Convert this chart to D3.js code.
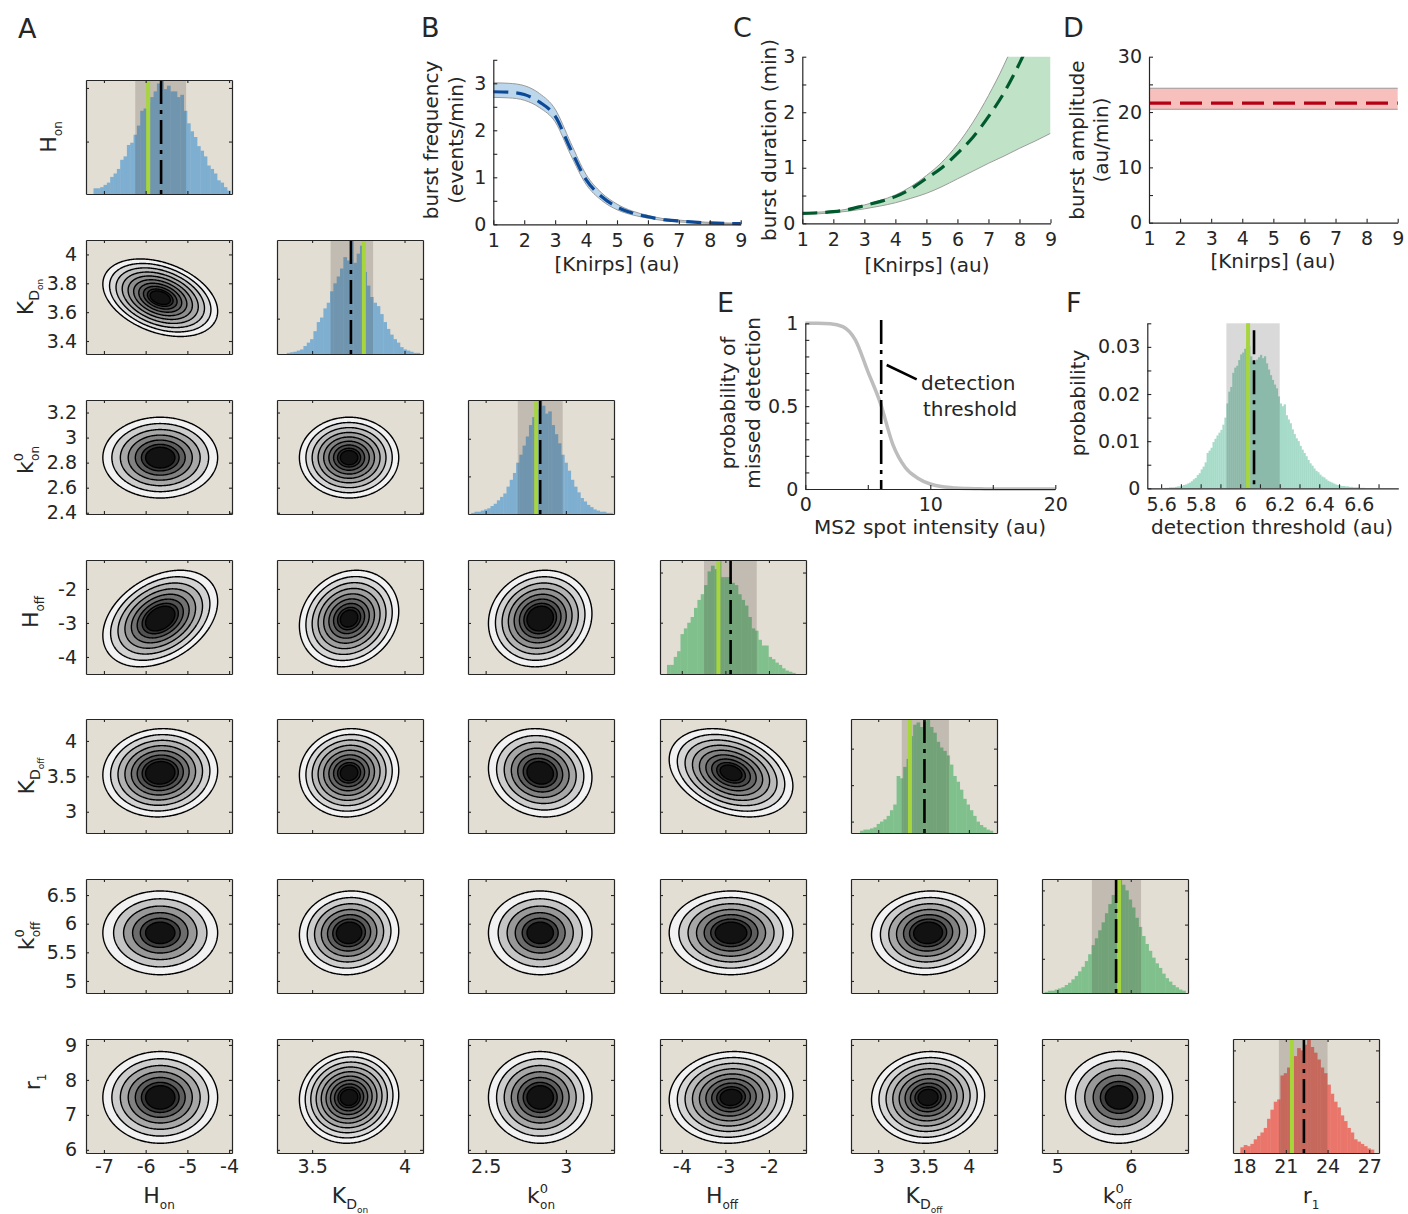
<!DOCTYPE html>
<html>
<head>
<meta charset="utf-8">
<script src="https://cdn.jsdelivr.net/npm/d3@7/dist/d3.min.js"></script>
<style>
html,body{margin:0;padding:0;background:#fff;}
svg{display:block;}
</style>
</head>
<body>
<svg id="fig" width="1408" height="1214"></svg>
<script>
// ================= DATA =================
// Corner plot parameters (order: H_on, K_D_on, k0_on, H_off, K_D_off, k0_off, r_1)
const axisDomains = [[-7.43,-3.93],[3.31,4.10],[2.39,3.30],[-4.50,-1.15],[2.70,4.31],[4.79,6.78],[5.91,9.17]];
const r1HistDomain = [17.2, 27.7];
const xTickVals = [[-7,-6,-5,-4],[3.5,4],[2.5,3],[-4,-3,-2],[3,3.5,4],[5,6],[18,21,24,27]];
const yTickVals = [[],[3.4,3.6,3.8,4],[2.4,2.6,2.8,3,3.2],[-4,-3,-2],[3,3.5,4],[5,5.5,6,6.5],[6,7,8,9]];

// Marginal histograms (relative heights)
const histHon   = [0.05,0.05,0.06,0.08,0.10,0.15,0.18,0.22,0.30,0.33,0.43,0.45,0.52,0.60,0.73,0.75,0.80,0.85,0.90,0.97,1.00,0.92,0.95,0.90,0.90,0.85,0.87,0.73,0.62,0.55,0.50,0.42,0.38,0.33,0.25,0.22,0.18,0.12,0.10,0.06,0.03];
const histKDon  = [0.01,0.015,0.02,0.03,0.04,0.07,0.10,0.13,0.20,0.28,0.32,0.40,0.45,0.55,0.62,0.68,0.75,0.85,0.82,1.00,0.80,0.88,0.95,0.72,0.60,0.50,0.45,0.42,0.35,0.28,0.22,0.17,0.13,0.10,0.06,0.04,0.03,0.02,0.01,0.01];
const histKon0  = [0.01,0.02,0.02,0.03,0.04,0.05,0.07,0.09,0.12,0.15,0.18,0.24,0.30,0.36,0.45,0.52,0.60,0.68,0.78,0.85,0.92,1.00,0.95,0.88,0.90,0.78,0.70,0.62,0.52,0.45,0.38,0.30,0.24,0.19,0.14,0.11,0.08,0.06,0.04,0.03,0.02,0.02,0.01,0.01];
const histHoff  = [0.08,0.08,0.15,0.20,0.35,0.40,0.45,0.50,0.58,0.65,0.70,0.78,0.90,0.95,0.92,1.00,0.85,0.85,0.85,0.80,0.78,0.70,0.65,0.60,0.50,0.40,0.38,0.30,0.25,0.25,0.15,0.13,0.10,0.08,0.05,0.03,0.02,0.01];
const histKDoff = [0.02,0.03,0.03,0.04,0.05,0.08,0.10,0.12,0.15,0.20,0.25,0.50,0.48,0.58,0.65,0.85,0.95,0.97,0.93,0.98,1.00,0.93,0.88,0.80,0.75,0.72,0.68,0.60,0.50,0.45,0.38,0.30,0.25,0.20,0.15,0.10,0.07,0.05,0.03,0.02];
const histKoff0 = [0.01,0.02,0.02,0.03,0.04,0.05,0.07,0.09,0.12,0.15,0.19,0.23,0.28,0.34,0.42,0.48,0.55,0.62,0.70,0.78,0.86,0.93,1.00,0.95,0.90,0.82,0.75,0.66,0.58,0.50,0.43,0.37,0.31,0.26,0.22,0.17,0.13,0.10,0.07,0.05,0.03,0.02];
const histR1    = [0.05,0.07,0.06,0.08,0.12,0.15,0.18,0.22,0.30,0.38,0.45,0.47,0.68,0.70,0.75,0.80,0.85,0.92,0.90,0.95,1.00,0.93,0.88,0.82,0.75,0.70,0.60,0.52,0.45,0.40,0.33,0.28,0.22,0.18,0.12,0.10,0.08,0.06,0.04,0.03];
const histStart = [-7.25, 3.363, 2.41, -4.34, 2.80, 4.825, 17.73];
const histWidth = [0.08, 0.018, 0.02, 0.0775, 0.0366, 0.0457, 0.24];
const histYTicks = [[0.46,0.93],[0.31,0.66],[0.33,0.66],[0.45,0.89],[0.10,0.42,0.74],[0.30,0.60,0.90],[0.45,0.90]];

// Credible interval, true value (green) and median (dash-dot)
const ciLow        = [-6.25, 3.60, 2.70, -3.49, 3.26, 5.47, 20.5];
const ciHigh       = [-5.03, 3.83, 2.98, -2.28, 3.78, 6.14, 24.0];
const trueValues   = [-5.94, 3.78, 2.815, -3.16, 3.35, 5.84, 21.44];
const medianValues = [-5.63, 3.71, 2.84, -2.88, 3.51, 5.80, 22.3];

// Joint posterior contours: centre & spread per parameter, correlation & level count per pair
const contourCenter = [-5.65, 3.70, 2.84, -2.87, 3.55, 5.84, 7.50];
const contourSpread = [0.64, 0.125, 0.15, 0.66, 0.29, 0.34, 0.61];
const pairRow    = [1,2,2,3,3,3,4,4,4,4,5,5,5,5,5,6,6,6,6,6,6];
const pairCol    = [0,0,1,0,1,2,0,1,2,3,0,1,2,3,4,0,1,2,3,4,5];
const pairCorr   = [-0.35, 0.0,0.0, 0.35,0.15,0.1, 0.05,0.05,-0.1,-0.3, 0,0.05,0,0,0.05, 0,0.05,0,0.05,0.05,0];
const pairLevels = [10, 7,9, 8,9,8, 8,9,7,9, 6,7,6,7,7, 7,10,7,9,9,6];

// Panel B-D : vs [Knirps]
const knirps   = [1,1.5,2,2.5,3,3.5,4,4.5,5,5.5,6,6.5,7,7.5,8,8.5,9];
const freqMean = [2.82,2.81,2.76,2.60,2.30,1.60,0.95,0.59,0.37,0.24,0.16,0.10,0.07,0.045,0.03,0.02,0.015];
const freqLow  = [2.70,2.69,2.64,2.48,2.18,1.48,0.85,0.51,0.31,0.20,0.13,0.08,0.05,0.035,0.02,0.015,0.01];
const freqHigh = [3.01,3.00,2.95,2.78,2.45,1.74,1.06,0.67,0.43,0.28,0.19,0.12,0.09,0.06,0.04,0.03,0.02];
const durMean  = [0.18,0.19,0.21,0.25,0.32,0.39,0.48,0.62,0.81,1.00,1.26,1.55,1.92,2.35,2.88,3.50,4.20];
const durLow   = [0.16,0.17,0.19,0.22,0.26,0.31,0.37,0.45,0.54,0.66,0.80,0.94,1.08,1.21,1.35,1.48,1.62];
const durHigh  = [0.19,0.20,0.22,0.26,0.33,0.41,0.51,0.66,0.86,1.10,1.42,1.82,2.30,2.85,3.50,4.30,5.20];
const ampX     = [1, 9];
const ampMean  = [21.6, 21.6];
const ampLow   = [20.5, 20.5];
const ampHigh  = [24.3, 24.3];

// Panel E
const spotIntensity = [0,1,2,3,4,5,6,7,8,9,10,11,12,13,14,16,18,20];
const pMissed       = [1,1,0.998,0.98,0.90,0.71,0.52,0.27,0.13,0.065,0.03,0.013,0.006,0.003,0.001,0,0,0];

// Panel F
const thrStart = 5.62, thrWidth = 0.01;
const thrProb = [0.1,0.1,0.2,0.2,0.2,0.3,0.4,0.4,0.5,0.7,0.8,1.0,1.2,1.5,1.9,2.2,2.8,3.2,4.0,4.6,5.5,7.5,8.0,8.6,9.8,10.5,11.2,11.8,12.4,13.5,15.0,18.0,20.5,21.5,24.5,25.6,26.0,27.2,28.4,28.8,29.6,31.0,30.2,28.0,27.0,26.6,27.3,27.8,28.3,27.6,28.0,26.5,25.2,24.0,23.0,22.0,21.2,19.5,18.0,17.4,17.8,15.5,14.6,13.8,12.5,11.5,10.6,10.0,9.0,8.2,7.5,6.8,6.0,5.3,4.8,4.2,3.7,3.4,2.9,2.5,2.3,1.9,1.6,1.4,1.2,1.0,0.8,0.7,0.6,0.5,0.5,0.4,0.4,0.3,0.3,0.2,0.2,0.2,0.1,0.1,0.1].map(v=>v/1000);
const thrCiLow = 5.93, thrCiHigh = 6.20, thrTrue = 6.04, thrMedian = 6.07;

// Tick labels for B-F
const bYTicks = [0,0.5,1,1.5,2,2.5,3,3.5], bYLabels = ["0","","1","","2","","3",""];
const cYTicks = [0,0.5,1,1.5,2,2.5,3],     cYLabels = ["0","","1","","2","","3"];
const dYTicks = [0,5,10,15,20,25,30],      dYLabels = ["0","","10","","20","","30"];
const knirpsTicks = [1,2,3,4,5,6,7,8,9];
const eXTicks = [0,5,10,15,20], eXLabels = ["0","","10","","20"];
const eYTicks = [0,0.1,0.2,0.3,0.4,0.5,0.6,0.7,0.8,0.9,1], eYLabels = ["0","","","","","0.5","","","","","1"];
const fXTicks = [5.6,5.7,5.8,5.9,6,6.1,6.2,6.3,6.4,6.5,6.6,6.7], fXLabels = ["5.6","","5.8","","6","","6.2","","6.4","","6.6",""];
const fYTicks = [0,0.005,0.01,0.015,0.02,0.025,0.03,0.035], fYLabels = ["0","","0.01","","0.02","","0.03",""];

// ================= DRAWING =================
const FONT = "'DejaVu Sans', 'Open Sans', sans-serif";
const TXT = "#262626";
const BG = "#e3ded4";
const TICK_PX = 19, LABEL_PX = 20;
const svg = d3.select("#fig");
const histCounts = [histHon, histKDon, histKon0, histHoff, histKDoff, histKoff0, histR1];
const histFill = ["#7eaed0","#7eaed0","#7eaed0","#80c08d","#80c08d","#80c08d","#ea766b"];

const colX = [86,277,468,660,851,1042,1233];
const rowY = [80,240,400,560,719,879,1039];
const PW = 146, PH = 114;

function styleAxis(g, size) {
  g.attr("font-family", null).attr("font-size", null);
  g.selectAll("path.domain").attr("stroke", TXT).attr("stroke-width", 1.2);
  g.selectAll(".tick line").attr("stroke", TXT).attr("stroke-width", 1.1);
  g.selectAll(".tick text").attr("fill", TXT).style("font-size", size + "px").style("font-family", FONT);
}

function frame(g, xs, ys, xt, yt, showX, showY) {
  const none = () => "";
  const fmt = d => String(d);
  const b = g.append("g").attr("transform", `translate(0,${PH})`)
    .call(d3.axisBottom(xs).tickValues(xt).tickSize(-3).tickSizeOuter(0).tickPadding(7).tickFormat(showX ? fmt : none));
  const t = g.append("g").call(d3.axisTop(xs).tickValues(xt).tickSize(-3).tickSizeOuter(0).tickFormat(none));
  const l = g.append("g").call(d3.axisLeft(ys).tickValues(yt).tickSize(-3).tickSizeOuter(0).tickPadding(9).tickFormat(showY ? fmt : none));
  const r = g.append("g").attr("transform", `translate(${PW},0)`)
    .call(d3.axisRight(ys).tickValues(yt).tickSize(-3).tickSizeOuter(0).tickFormat(none));
  [b, t, l, r].forEach(a => styleAxis(a, TICK_PX));
}

function drawHist(p) {
  const g = svg.append("g").attr("transform", `translate(${colX[p]},${rowY[p]})`);
  const xs = d3.scaleLinear().domain(p === 6 ? r1HistDomain : axisDomains[p]).range([0, PW]);
  const counts = histCounts[p];
  const ys = d3.scaleLinear().domain([0, d3.max(counts)]).range([PH, 0]);
  g.append("rect").attr("width", PW).attr("height", PH).attr("fill", BG);
  const x0 = histStart[p], dx = histWidth[p];
  g.append("g").selectAll("rect").data(counts).join("rect")
    .attr("x", (d, i) => xs(x0 + i * dx))
    .attr("width", (d, i) => xs(x0 + (i + 1) * dx) - xs(x0 + i * dx) + 0.4)
    .attr("y", d => ys(d)).attr("height", d => PH - ys(d))
    .attr("fill", histFill[p]);
  g.append("rect").attr("x", xs(ciLow[p])).attr("width", xs(ciHigh[p]) - xs(ciLow[p]))
    .attr("y", 0).attr("height", PH).attr("fill", "rgba(60,50,40,0.2)");
  g.append("line").attr("x1", xs(trueValues[p])).attr("x2", xs(trueValues[p]))
    .attr("y1", 0).attr("y2", PH).attr("stroke", "#a6d63c").attr("stroke-width", 4);
  g.append("line").attr("x1", xs(medianValues[p])).attr("x2", xs(medianValues[p]))
    .attr("y1", 0).attr("y2", PH).attr("stroke", "#000").attr("stroke-width", 2.6)
    .attr("stroke-dasharray", "24,6,4,6");
  frame(g, xs, ys, xTickVals[p], histYTicks[p], p === 6, false);
}

function drawContour(k) {
  const r = pairRow[k], c = pairCol[k];
  const g = svg.append("g").attr("transform", `translate(${colX[c]},${rowY[r]})`);
  const xs = d3.scaleLinear().domain(axisDomains[c]).range([0, PW]);
  const ys = d3.scaleLinear().domain(axisDomains[r]).range([PH, 0]);
  g.append("rect").attr("width", PW).attr("height", PH).attr("fill", BG);
  const mx = contourCenter[c], my = contourCenter[r];
  const sx = contourSpread[c], sy = contourSpread[r], rho = pairCorr[k];
  const vals = new Float64Array(PW * PH);
  for (let j = 0; j < PH; j++) {
    const y = ys.invert(j + 0.5);
    for (let i = 0; i < PW; i++) {
      const x = xs.invert(i + 0.5);
      const u = (x - mx) / sx, v = (y - my) / sy;
      const q = (u * u - 2 * rho * u * v + v * v) / (1 - rho * rho);
      vals[j * PW + i] = Math.exp(-q / 2);
    }
  }
  const n = pairLevels[k];
  const rOut = 2.15, rIn = n >= 9 ? 0.38 : 0.55;
  const th = d3.range(n).map(i => {
    const rr = rIn + (rOut - rIn) * Math.pow(1 - i / (n - 1), 1.3);
    return Math.exp(-rr * rr / 2);
  });
  const cs = d3.contours().size([PW, PH]).thresholds(th)(vals);
  const path = d3.geoPath();
  g.append("g").selectAll("path").data(cs).join("path")
    .attr("d", path)
    .attr("fill", (d, i) => { const v = Math.round(242 - i * (242 - 18) / (n - 1)); return d3.rgb(v, v, v); })
    .attr("stroke", "#000").attr("stroke-width", 1.4).attr("stroke-linejoin", "round");
  frame(g, xs, ys, xTickVals[c], yTickVals[r], r === 6, c === 0);
}

for (let p = 0; p < 7; p++) drawHist(p);
for (let k = 0; k < pairRow.length; k++) drawContour(k);

// ---- math labels ----
function mathText(parts, x, y, rotate, size) {
  const t = svg.append("text")
    .attr("transform", `translate(${x},${y})` + (rotate ? " rotate(-90)" : ""))
    .attr("text-anchor", "middle").attr("fill", TXT)
    .style("font-family", FONT).style("font-size", size + "px");
  parts.forEach(p => {
    const ts = t.append("tspan").text(p.t);
    if (p.size) ts.style("font-size", p.size + "px");
    if (p.dy) ts.attr("dy", p.dy);
    if (p.dx) ts.attr("dx", p.dx);
  });
  return t;
}
const paramLabels = [
  [{t:"H"},{t:"on",size:12,dy:6}],
  [{t:"K"},{t:"D",size:14,dy:6},{t:"on",size:9,dy:4}],
  [{t:"k"},{t:"0",size:13,dy:-10},{t:"on",size:12,dx:-8,dy:16}],
  [{t:"H"},{t:"off",size:12,dy:6}],
  [{t:"K"},{t:"D",size:14,dy:6},{t:"off",size:9,dy:4}],
  [{t:"k"},{t:"0",size:13,dy:-10},{t:"off",size:12,dx:-8,dy:16}],
  [{t:"r"},{t:"1",size:12,dy:6}]
];
const rowLabelX = [56, 33, 33, 38, 34, 34, 40];
const rowLabelY = [137, 297, 460, 612, 776, 936, 1082];
const colLabelX = [159, 350, 541, 722, 924, 1117, 1311];
for (let p = 0; p < 7; p++) {
  mathText(paramLabels[p], rowLabelX[p], rowLabelY[p], true, 22);
  mathText(paramLabels[p], colLabelX[p], 1203, false, 22);
}

// ---- panel letters ----
[["A",18,38],["B",421,37],["C",733,37],["D",1063,37],["E",717,312],["F",1066,312]].forEach(([s,x,y]) => {
  svg.append("text").attr("x", x).attr("y", y).text(s).attr("fill", TXT)
    .style("font-family", FONT).style("font-size", "27px");
});

function plainText(s, x, y, rotate, size, anchor) {
  return svg.append("text")
    .attr("transform", `translate(${x},${y})` + (rotate ? " rotate(-90)" : ""))
    .attr("text-anchor", anchor || "middle").attr("fill", TXT)
    .style("font-family", FONT).style("font-size", size + "px").text(s);
}

function openAxes(xs, ys, xt, xl, yt, yl, x0, y0) {
  const gx = svg.append("g").attr("transform", `translate(0,${y0})`)
    .call(d3.axisBottom(xs).tickValues(xt).tickSize(-4).tickSizeOuter(0).tickPadding(9).tickFormat((d, i) => xl[i]));
  const gy = svg.append("g").attr("transform", `translate(${x0},0)`)
    .call(d3.axisLeft(ys).tickValues(yt).tickSize(-4).tickSizeOuter(0).tickPadding(7).tickFormat((d, i) => yl[i]));
  styleAxis(gx, TICK_PX); styleAxis(gy, TICK_PX);
}

function bandPanel(xs, ys, xv, mean, lo, hi, fill, lineCol, dash, clipId) {
  const g = svg.append("g");
  if (clipId) g.attr("clip-path", `url(#${clipId})`);
  const area = d3.area().x((d, i) => xs(xv[i])).y0((d, i) => ys(lo[i])).y1((d, i) => ys(hi[i])).curve(d3.curveMonotoneX);
  const line = arr => d3.line().x((d, i) => xs(xv[i])).y((d, i) => ys(arr[i])).curve(d3.curveMonotoneX)(arr);
  g.append("path").attr("d", area(xv)).attr("fill", fill);
  g.append("path").attr("d", line(lo)).attr("fill", "none").attr("stroke", "#9a9a9a").attr("stroke-width", 1);
  g.append("path").attr("d", line(hi)).attr("fill", "none").attr("stroke", "#9a9a9a").attr("stroke-width", 1);
  g.append("path").attr("d", line(mean)).attr("fill", "none").attr("stroke", lineCol).attr("stroke-width", 3.2).attr("stroke-dasharray", dash);
}

// ---- B ----
{
  const xs = d3.scaleLinear().domain([1, 9]).range([493.3, 740.7]);
  const ys = d3.scaleLinear().domain([0, 3.5]).range([224.3, 59.8]);
  bandPanel(xs, ys, knirps, freqMean, freqLow, freqHigh, "#bcd6ec", "#0c4a98", "15,8");
  openAxes(xs, ys, knirpsTicks, knirpsTicks.map(String), bYTicks, bYLabels, 493.3, 224.3);
  plainText("burst frequency", 438, 140, true, LABEL_PX);
  plainText("(events/min)", 463, 140, true, LABEL_PX);
  plainText("[Knirps] (au)", 617, 271, false, LABEL_PX);
}
// ---- C ----
{
  const xs = d3.scaleLinear().domain([1, 9]).range([802.3, 1050.5]);
  const ys = d3.scaleLinear().domain([0, 3]).range([223.3, 56.7]);
  svg.append("clipPath").attr("id", "clipC").append("rect")
    .attr("x", 802.3).attr("y", 56.7).attr("width", 248.2).attr("height", 166.6);
  bandPanel(xs, ys, knirps, durMean, durLow, durHigh, "#c0e3c8", "#005a2d", "15,8", "clipC");
  openAxes(xs, ys, knirpsTicks, knirpsTicks.map(String), cYTicks, cYLabels, 802.3, 223.3);
  plainText("burst duration (min)", 776, 140, true, LABEL_PX);
  plainText("[Knirps] (au)", 927, 272, false, LABEL_PX);
}
// ---- D ----
{
  const xs = d3.scaleLinear().domain([1, 9]).range([1149, 1397.7]);
  const ys = d3.scaleLinear().domain([0, 30]).range([222.7, 56.7]);
  bandPanel(xs, ys, ampX, ampMean, ampLow, ampHigh, "#f8c0bd", "#b30015", "22,9");
  openAxes(xs, ys, knirpsTicks, knirpsTicks.map(String), dYTicks, dYLabels, 1149, 222.7);
  plainText("burst amplitude", 1084, 140, true, LABEL_PX);
  plainText("(au/min)", 1108, 140, true, LABEL_PX);
  plainText("[Knirps] (au)", 1273, 268, false, LABEL_PX);
}
// ---- E ----
{
  const xs = d3.scaleLinear().domain([0, 20]).range([805.3, 1055.3]);
  const ys = d3.scaleLinear().domain([0, 1]).range([489, 323.3]);
  const line = d3.line().x((d, i) => xs(spotIntensity[i])).y(d => ys(d)).curve(d3.curveMonotoneX);
  svg.append("path").attr("d", line(pMissed)).attr("fill", "none").attr("stroke", "#bdbdbd").attr("stroke-width", 3.5);
  svg.append("line").attr("x1", xs(thrMedian)).attr("x2", xs(thrMedian)).attr("y1", ys(1.02)).attr("y2", ys(0))
    .attr("stroke", "#000").attr("stroke-width", 2.6).attr("stroke-dasharray", "24,6,4,6");
  openAxes(xs, ys, eXTicks, eXLabels, eYTicks, eYLabels, 805.3, 489);
  svg.append("line").attr("x1", 886.7).attr("y1", 365).attr("x2", 916.7).attr("y2", 379.3)
    .attr("stroke", "#000").attr("stroke-width", 2.5);
  plainText("detection", 921, 390, false, LABEL_PX, "start");
  plainText("threshold", 923, 416, false, LABEL_PX, "start");
  plainText("probability of", 735, 403, true, LABEL_PX);
  plainText("missed detection", 760, 403, true, LABEL_PX);
  plainText("MS2 spot intensity (au)", 930, 534, false, LABEL_PX);
}
// ---- F ----
{
  const xs = d3.scaleLinear().domain([5.53, 6.80]).range([1147.3, 1398.3]);
  const ys = d3.scaleLinear().domain([0, 0.035]).range([488.3, 323.3]);
  svg.append("g").selectAll("rect").data(thrProb).join("rect")
    .attr("x", (d, i) => xs(thrStart + i * thrWidth))
    .attr("width", (d, i) => xs(thrStart + (i + 1) * thrWidth) - xs(thrStart + i * thrWidth) + 0.3)
    .attr("y", d => ys(d)).attr("height", d => ys(0) - ys(d)).attr("fill", "#a5dbc8");
  svg.append("rect").attr("x", xs(thrCiLow)).attr("width", xs(thrCiHigh) - xs(thrCiLow))
    .attr("y", ys(0.035)).attr("height", ys(0) - ys(0.035)).attr("fill", "rgba(0,0,0,0.15)");
  svg.append("line").attr("x1", xs(thrTrue)).attr("x2", xs(thrTrue)).attr("y1", ys(0.035)).attr("y2", ys(0))
    .attr("stroke", "#a6d63c").attr("stroke-width", 4);
  svg.append("line").attr("x1", xs(thrMedian)).attr("x2", xs(thrMedian)).attr("y1", ys(0.0335)).attr("y2", ys(0))
    .attr("stroke", "#000").attr("stroke-width", 2.6).attr("stroke-dasharray", "24,6,4,6");
  openAxes(xs, ys, fXTicks, fXLabels, fYTicks, fYLabels, 1147.3, 488.3);
  plainText("probability", 1085, 403, true, LABEL_PX);
  plainText("detection threshold (au)", 1272, 534, false, LABEL_PX);
}
</script>
</body>
</html>
